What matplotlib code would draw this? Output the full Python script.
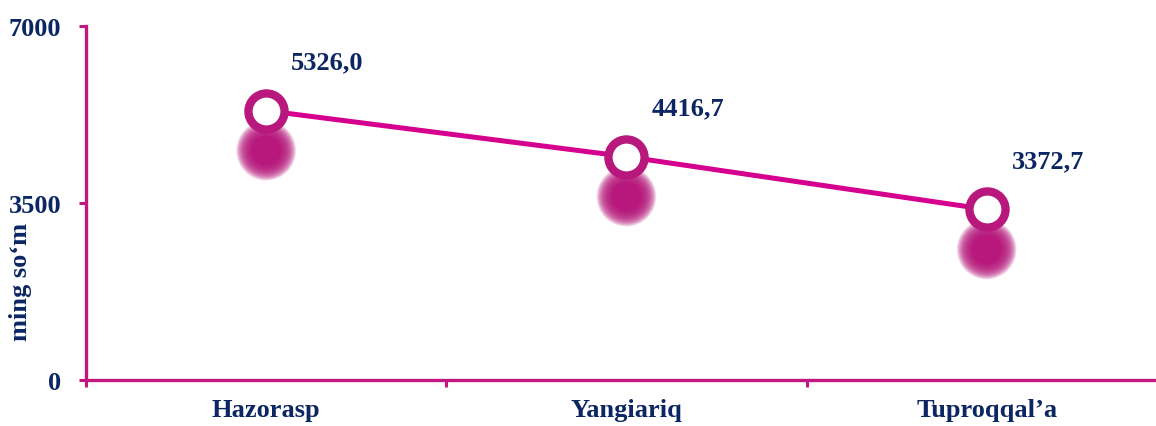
import numpy as np
import matplotlib
matplotlib.use('Agg')
import matplotlib.pyplot as plt
import matplotlib.transforms as mtransforms

# ---------------------------------------------------------------------------
CATEGORIES = ['Hazorasp', 'Yangiariq', 'Tuproqqal’a']
VALUES     = [5326.0, 4416.7, 3372.7]
LABELS     = ['5326,0', '4416,7', '3372,7']
YTICKS     = [0, 3500, 7000]

LINE_COL   = '#d6008f'
EDGE_COL   = '#b8187c'
SPINE_COL  = '#c0187e'
TEXT_COL   = '#0b2662'
# ---------------------------------------------------------------------------

plt.rcParams['font.family'] = ['Liberation Serif', 'DejaVu Serif']
plt.rcParams['font.weight'] = 'bold'

fig = plt.figure(figsize=(11.56, 4.27), dpi=100)
ax = fig.add_axes([86 / 1156, 1 - 381 / 427, 1 - 86 / 1156, (381 - 27) / 427])

x = np.arange(len(CATEGORIES))

# blurred shadow under each marker, shifted down by ~40 px
shadow_tr = mtransforms.offset_copy(ax.transData, fig=fig, x=0, y=-40, units='dots')
radii = np.linspace(30, 15, 30)
for r in radii:
    ax.scatter(x, VALUES, s=(r * 2 * 0.72) ** 2, color=EDGE_COL, alpha=0.09,
               edgecolors='none', transform=shadow_tr, zorder=1)
ax.scatter(x, VALUES, s=(15 * 2 * 0.72) ** 2, color=EDGE_COL, alpha=0.9,
           edgecolors='none', transform=shadow_tr, zorder=1)

ax.plot(x, VALUES, color=LINE_COL, lw=3.6, zorder=2)
ax.plot(x, VALUES, ls='none', marker='o', ms=26, mfc='white',
        mec=EDGE_COL, mew=6.0, zorder=3)

for xi, v, lab in zip(x, VALUES, LABELS):
    ax.annotate(lab, (xi, v), xytext=(44, 35), textcoords='offset points',
                ha='center', va='center', fontsize=19, fontweight='bold',
                color=TEXT_COL)

ax.set_xlim(-0.5, 2.47)
ax.set_ylim(0, 7000)

ax.set_yticks(YTICKS)
ax.set_yticklabels([str(t) for t in YTICKS])
ax.set_xticks([-0.5, 0.5, 1.5])
ax.set_xticklabels([])
ax.set_xticks(x, minor=True)
ax.set_xticklabels(CATEGORIES, minor=True)

ax.tick_params(axis='y', length=5, width=2.2, color=SPINE_COL, pad=13,
               labelsize=19, labelcolor=TEXT_COL)
ax.tick_params(axis='x', which='major', length=5, width=2.2, color=SPINE_COL)
ax.tick_params(axis='x', which='minor', length=0, pad=13,
               labelsize=19, labelcolor=TEXT_COL)

for side in ['top', 'right']:
    ax.spines[side].set_visible(False)
for side in ['left', 'bottom']:
    ax.spines[side].set_color(SPINE_COL)
    ax.spines[side].set_linewidth(2.4)

ax.set_ylabel('ming so‘m', fontsize=19, fontweight='bold', color=TEXT_COL)
ax.yaxis.set_label_coords(-0.05, 0.28)

fig.savefig('out.png', dpi=100)
